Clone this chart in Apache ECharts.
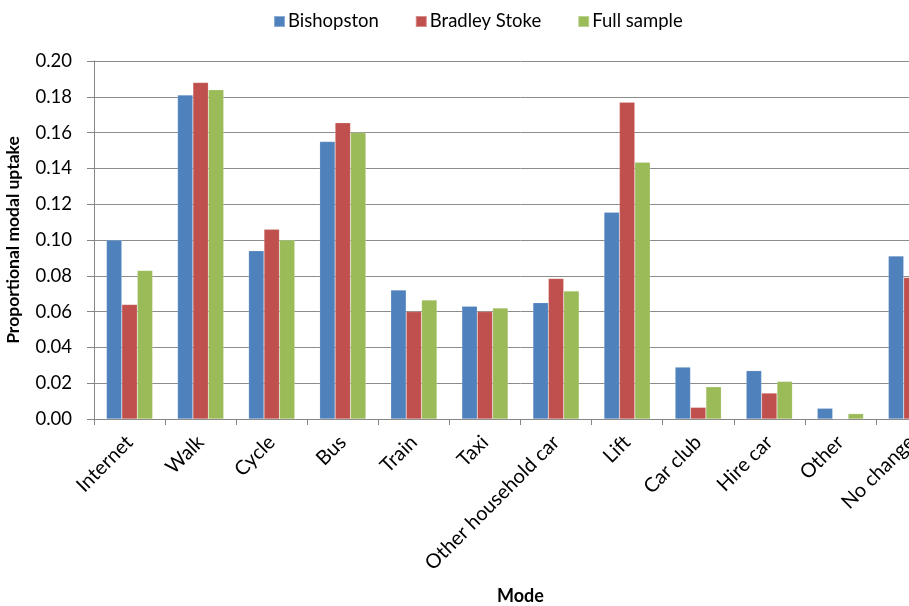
<!DOCTYPE html>
<html>
<head>
<meta charset="utf-8">
<script src="https://cdn.jsdelivr.net/npm/echarts@6/dist/echarts.min.js"></script>
<style>
html,body{margin:0;padding:0;width:909px;height:606px;overflow:hidden;background:#fff;}
#c{width:1000px;height:606px;}
</style>
</head>
<body>
<div id="c"></div>
<script>
const categories = ['Internet','Walk','Cycle','Bus','Train','Taxi','Other household car','Lift','Car club','Hire car','Other','No change'];
const bishopston = [0.100,0.181,0.094,0.155,0.072,0.063,0.065,0.1155,0.029,0.027,0.006,0.091];
const bradleyStoke = [0.064,0.188,0.106,0.1655,0.060,0.060,0.0785,0.177,0.0065,0.0145,0.000,0.079];
const fullSample = [0.083,0.184,0.100,0.160,0.0665,0.062,0.0715,0.1435,0.018,0.021,0.003,0.085];
const yTicks = [0,0.2,0.02];

const font = 'Lato';
const chart = echarts.init(document.getElementById('c'), null, {renderer:'canvas'});
const mk = (name, data, color) => ({
  name, type:'bar', data, barGap:'0%', barCategoryGap:'35%',
  itemStyle:{color, borderColor:'rgba(255,255,255,0.35)', borderWidth:0.5},
  emphasis:{disabled:true}
});
chart.setOption({
  animation:false,
  textStyle:{fontFamily:font},
  legend:{
    left:268, top:7, itemWidth:11, itemHeight:11, itemGap:36,
    icon:'rect',
    textStyle:{fontFamily:font, fontSize:18.5, color:'#000', padding:[0,0,0,-2]},
    data:['Bishopston','Bradley Stoke','Full sample']
  },
  grid:{left:94, right:53, top:61, bottom:187, containLabel:false, outerBoundsMode:'none'},
  xAxis:{
    type:'category', data:categories,
    name:'Mode', nameLocation:'middle', nameGap:168,
    nameTextStyle:{fontFamily:font, fontSize:18, fontWeight:'bold', color:'#000'},
    axisLine:{lineStyle:{color:'#868686'}},
    axisTick:{show:true, length:6, alignWithLabel:false, lineStyle:{color:'#868686'}},
    axisLabel:{rotate:45, interval:0, fontSize:20, color:'#000', fontFamily:font, margin:20}
  },
  yAxis:{
    type:'value', min:yTicks[0], max:yTicks[1], interval:yTicks[2],
    name:'Proportional modal uptake', nameLocation:'middle', nameGap:72,
    nameTextStyle:{fontFamily:font, fontSize:17.5, fontWeight:'bold', color:'#000'},
    axisLine:{show:true, lineStyle:{color:'#868686'}},
    axisTick:{show:true, inside:false, length:7, lineStyle:{color:'#868686'}},
    axisLabel:{fontSize:18.5, color:'#000', fontFamily:font, margin:22, formatter:v=>v.toFixed(2)},
    splitLine:{show:true, lineStyle:{color:'#8c8c8c', width:1}}
  },
  series:[
    mk('Bishopston', bishopston, '#4F81BD'),
    mk('Bradley Stoke', bradleyStoke, '#C0504D'),
    mk('Full sample', fullSample, '#9BBB59')
  ]
});
</script>
</body>
</html>
